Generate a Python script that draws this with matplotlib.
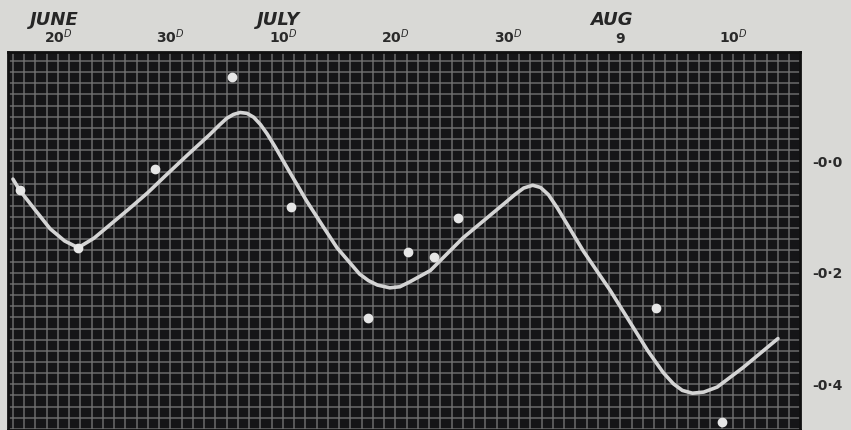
#!/usr/bin/env python
"""Redraw the scanned June-August curve on a dark ruled grid."""

import matplotlib

matplotlib.use("Agg")
import matplotlib.pyplot as plt
from matplotlib.ticker import MultipleLocator
from matplotlib.transforms import blended_transform_factory

# days counted from June 20
curve_days = [-4.0, -3.4, -2.0, -0.7, 0.6, 1.8, 3.2, 4.8, 6.4, 8.0, 9.5, 11.5, 13.5,
              14.3, 15.0, 15.6, 16.2, 16.8, 17.4, 18.0, 18.6, 19.3, 20.4, 22.1, 23.5,
              24.8, 26.8, 27.6, 28.4, 29.5, 30.4, 31.3, 33.1, 36.0, 39.6, 40.6, 41.4,
              42.2, 42.9, 43.6, 44.4, 46.7, 49.1, 52.4, 53.8, 54.7, 55.5, 56.4, 57.4,
              58.6, 60.9, 64.0]
curve_vals = [-0.032, -0.052, -0.088, -0.121, -0.143, -0.155, -0.138, -0.111, -0.084,
              -0.056, -0.027, 0.011, 0.048, 0.064, 0.077, 0.084, 0.0875, 0.086, 0.079,
              0.066, 0.049, 0.026, -0.0125, -0.071, -0.115, -0.155, -0.202, -0.214,
              -0.222, -0.227, -0.225, -0.216, -0.196, -0.1375, -0.077, -0.060, -0.048,
              -0.043, -0.047, -0.060, -0.084, -0.161, -0.232, -0.339, -0.379, -0.399,
              -0.411, -0.416, -0.414, -0.405, -0.370, -0.318]

obs_days = [-3.4, 1.8, 8.6, 15.5, 20.7, 27.6, 31.1, 33.4, 35.6, 53.2, 59.0]
obs_vals = [-0.052, -0.155, -0.014, 0.152, -0.082, -0.282, -0.1625, -0.171, -0.102,
            -0.2625, -0.468]

tick_days = [0, 10, 20, 30, 40, 50, 60]
tick_labels = ["20$^{D}$", "30$^{D}$", "10$^{D}$", "20$^{D}$", "30$^{D}$", "9", "10$^{D}$"]
month_names = ["JUNE", "JULY", "AUG"]
month_days = [-0.3, 19.6, 49.2]
y_ticks = [0.0, -0.2, -0.4]
y_labels = ["-0·0", "-0·2", "-0·4"]

W, H = 851, 430
fig = plt.figure(figsize=(W / 100, H / 100), dpi=100, facecolor="#d9d9d6")
ax = fig.add_axes([8 / W, 0, (800 - 8) / W, (430 - 52) / H])
ax.set_facecolor("#151517")

ax.set_xlim(-4.44, 65.96)
ax.set_ylim(-0.482, 0.196)

ax.xaxis.tick_top()
ax.set_xticks(tick_days)
ax.set_xticklabels(tick_labels, fontsize=10, fontweight="bold", color="#2a2a2a")
ax.xaxis.set_minor_locator(MultipleLocator(1))
ax.yaxis.tick_right()
ax.set_yticks(y_ticks)
ax.set_yticklabels(y_labels, fontsize=10, fontweight="bold", color="#2a2a2a")
ax.yaxis.set_minor_locator(MultipleLocator(0.02))
ax.tick_params(which="both", length=0)
ax.tick_params(axis="x", pad=4)
ax.tick_params(axis="y", pad=9)

ax.grid(True, which="both", color="#767676", linewidth=1.3, alpha=0.75)
ax.set_axisbelow(True)
for spine in ax.spines.values():
    spine.set_color("#101010")
    spine.set_linewidth(2)

ax.plot(curve_days, curve_vals, color="#d4d4d4", linewidth=2.6, zorder=3,
        solid_joinstyle="round", solid_capstyle="round")
ax.plot(obs_days, obs_vals, "o", color="#e6e6e6", markersize=6, zorder=4)

# month names sit in figure space above the day labels
month_tf = blended_transform_factory(ax.transData, fig.transFigure)
for name, day in zip(month_names, month_days):
    ax.text(day, 0.953, name, transform=month_tf, ha="center", va="center",
            fontsize=13, fontweight="bold", fontstyle="italic", color="#262626")

fig.savefig("out.png", dpi=100, facecolor=fig.get_facecolor())
